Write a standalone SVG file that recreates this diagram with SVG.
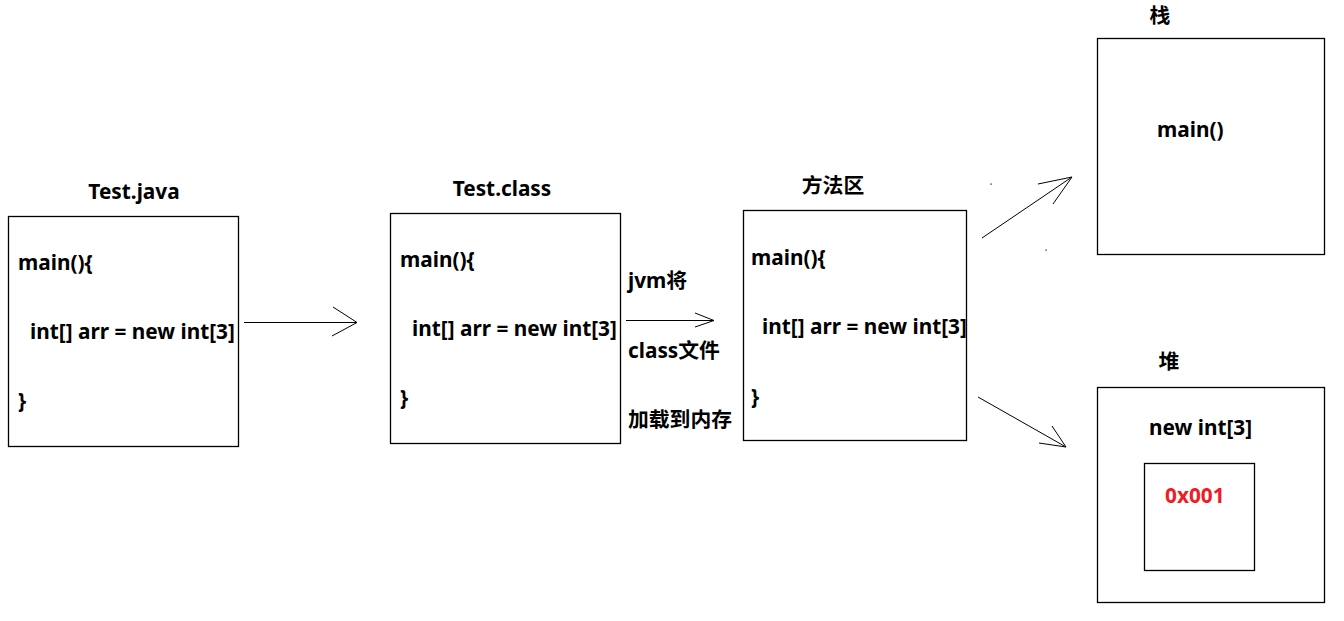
<svg xmlns="http://www.w3.org/2000/svg" width="1344" height="621" viewBox="0 0 1344 621">
<style>
.box{fill:none;stroke:#000;stroke-width:1.3}
.t{font-family:"Noto Sans","Noto Sans CJK SC",sans-serif;font-weight:bold;font-size:20.8px;fill:#000}
.c{text-anchor:middle}
.ln{fill:none;stroke:#000;stroke-width:1}
.red{fill:#ee1c24}
</style>
<rect width="1344" height="621" fill="#fff"/>
<g id="test-java">
<rect class="box" x="8.5" y="216.5" width="230" height="230"/>
<text class="t c" x="134" y="199">Test.java</text>
<text class="t" x="18" y="270">main(){</text>
<text class="t" x="30" y="339">int[] arr = new int[3]</text>
<text class="t" x="18" y="408">}</text>
</g>
<g id="test-class">
<rect class="box" x="390.5" y="213.5" width="230" height="230"/>
<text class="t c" x="502" y="196">Test.class</text>
<text class="t" x="400" y="267">main(){</text>
<text class="t" x="412" y="336">int[] arr = new int[3]</text>
<text class="t" x="400" y="405">}</text>
</g>
<g id="method-area">
<rect class="box" x="743.5" y="210.5" width="223" height="230"/>
<text class="t c" x="833" y="193">方法区</text>
<text class="t" x="751" y="265">main(){</text>
<text class="t" x="762" y="334">int[] arr = new int[3]</text>
<text class="t" x="751" y="404">}</text>
</g>
<g id="stack">
<rect class="box" x="1097.5" y="38.5" width="227" height="216"/>
<text class="t c" x="1160" y="23">栈</text>
<text class="t" x="1157" y="137">main()</text>
</g>
<g id="heap">
<rect class="box" x="1097.5" y="387.5" width="227" height="215"/>
<text class="t c" x="1169" y="369">堆</text>
<text class="t" x="1149" y="435">new int[3]</text>
<rect class="box" x="1144.5" y="463.5" width="110" height="107"/>
<text class="t red" x="1165" y="503">0x001</text>
</g>
<g id="labels">
<text class="t" x="628" y="288">jvm将</text>
<text class="t" x="628" y="358">class文件</text>
<text class="t" x="628" y="427">加载到内存</text>
</g>
<g id="connectors">
<path class="ln" d="M244 322.5H357M333 307L357 322.5L332 336"/>
<path class="ln" d="M626 320.5H714M695 313L714 320.5L695 327"/>
<path class="ln" d="M982 238L1072 177M1038 184L1072 177L1053 204"/>
<path class="ln" d="M978 397L1066 447M1052 426L1066 447L1039 443"/>
<rect x="990.5" y="183.5" width="1.2" height="1.2" fill="#000"/>
<rect x="1045.5" y="249.5" width="1.2" height="1.2" fill="#000"/>
</g>
</svg>
